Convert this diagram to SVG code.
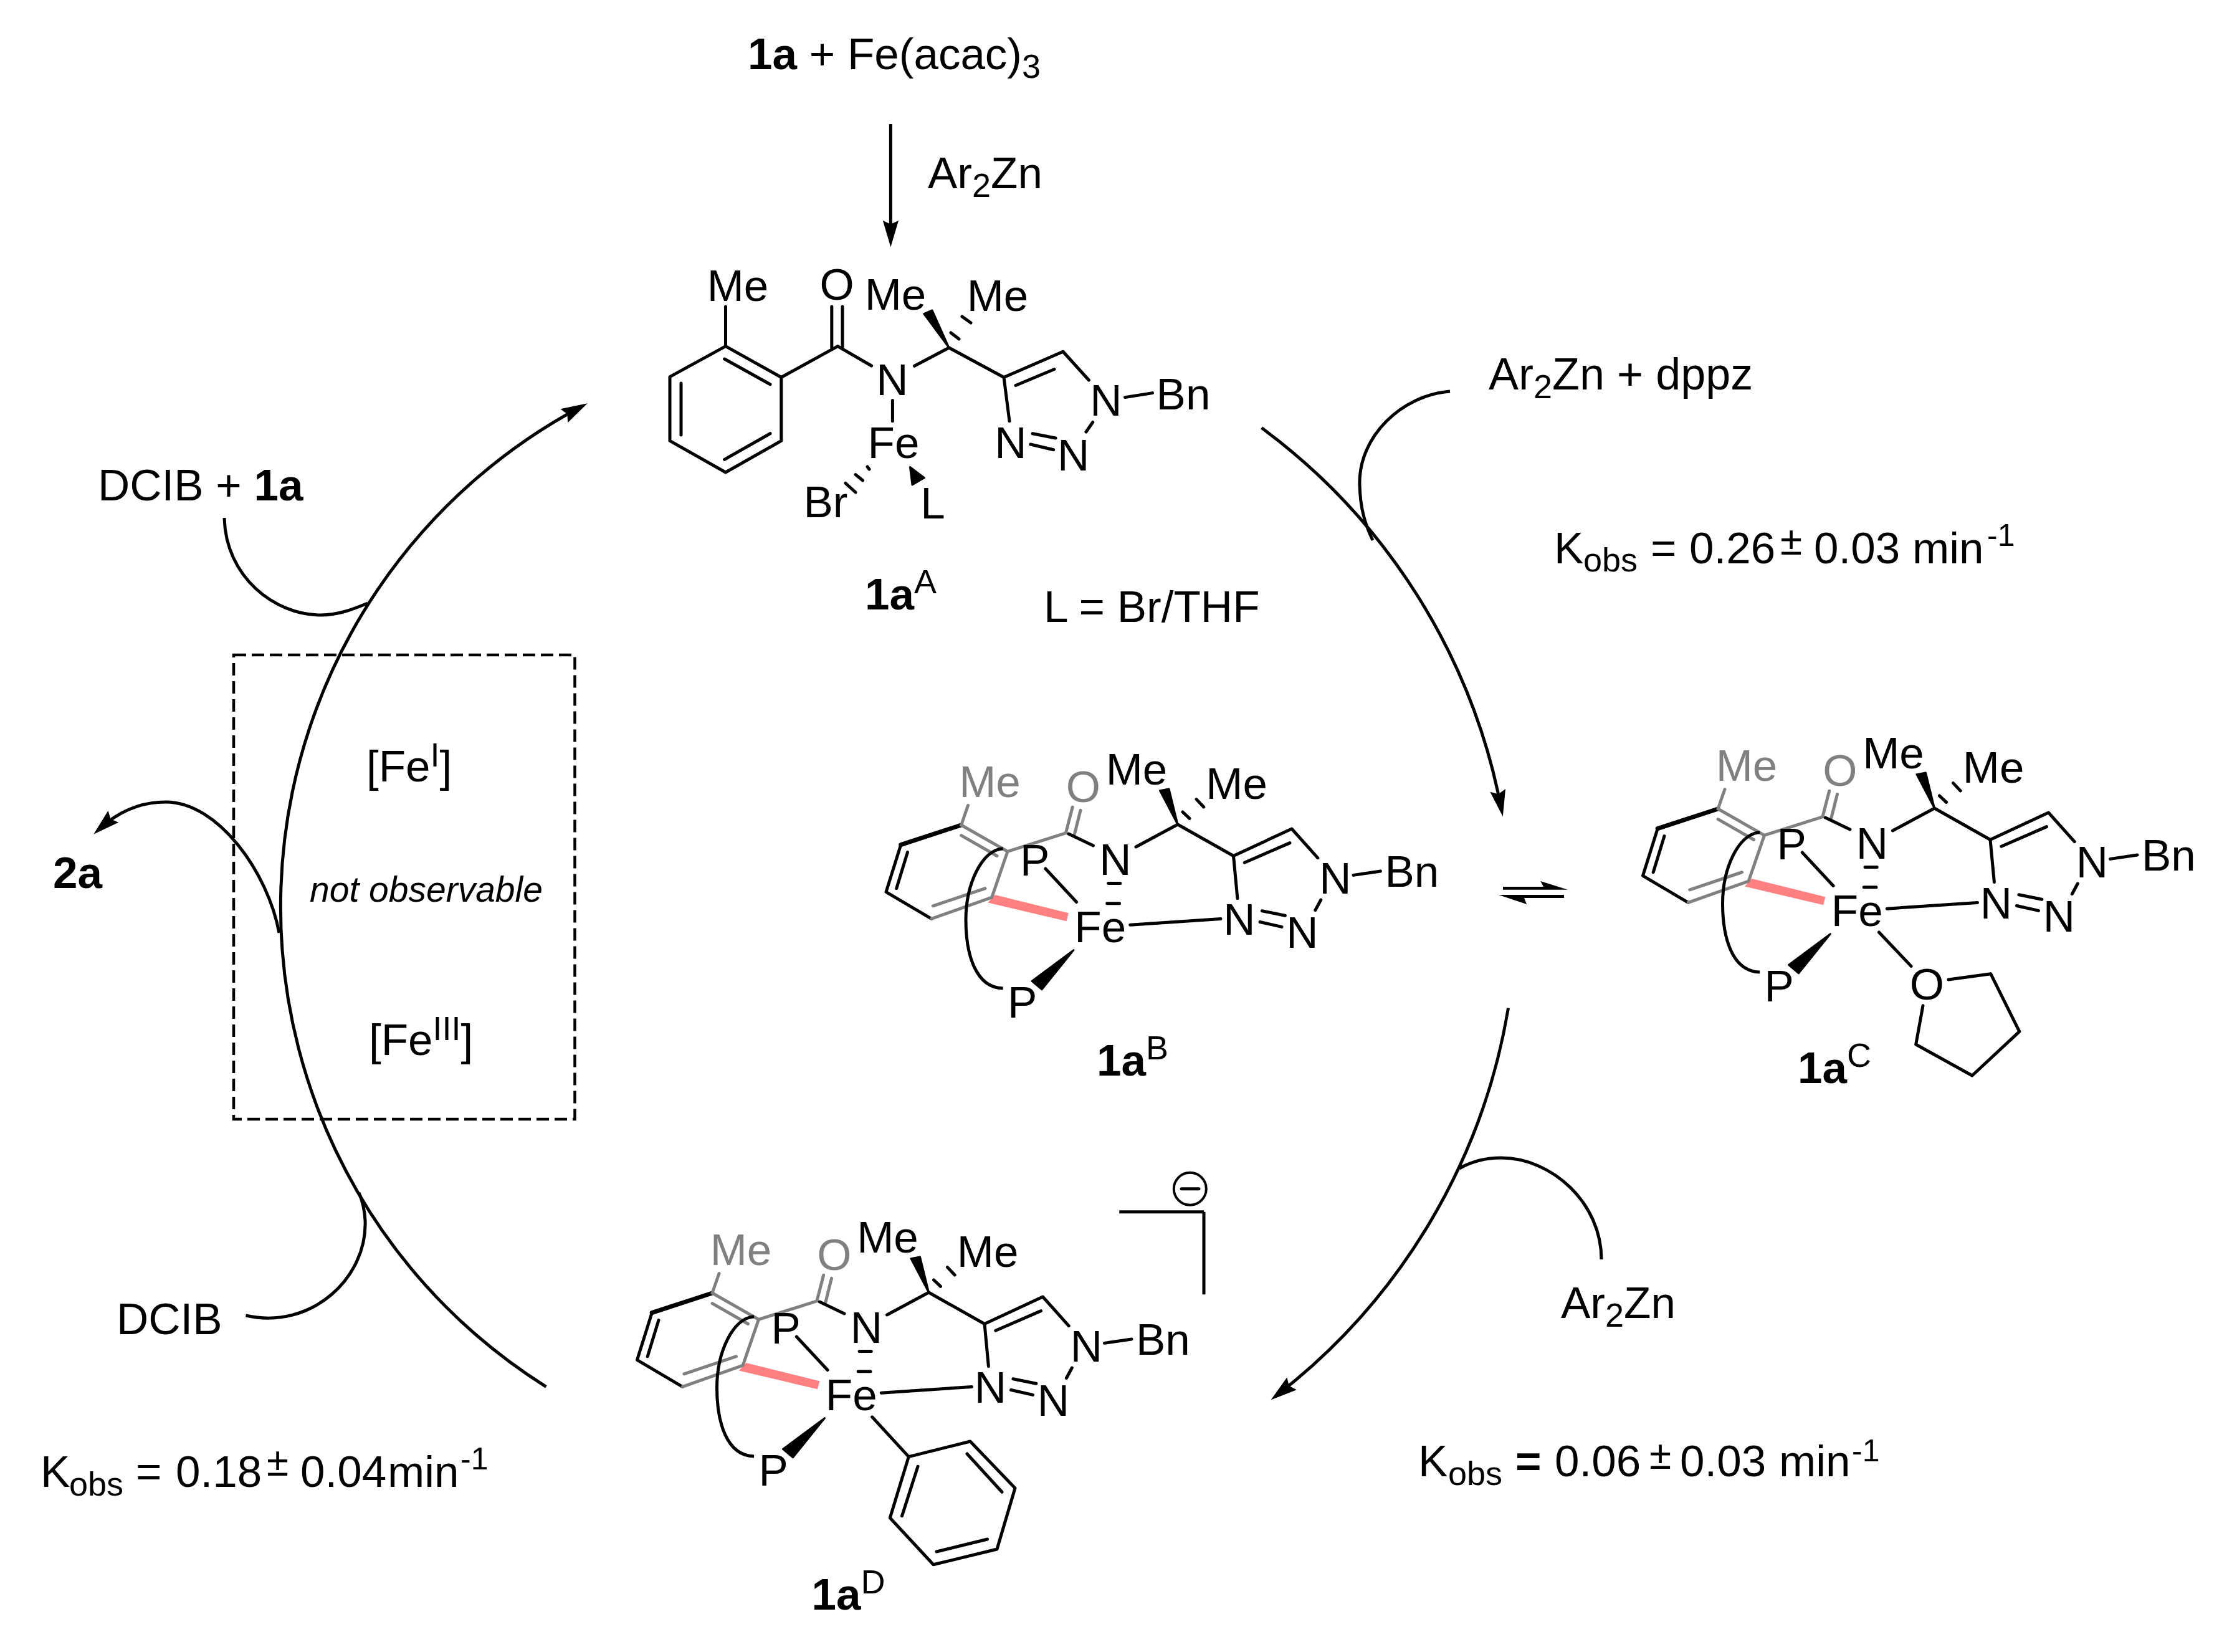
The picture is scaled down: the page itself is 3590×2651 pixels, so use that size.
<svg xmlns="http://www.w3.org/2000/svg" width="3590" height="2651" viewBox="0 0 3590 2651">
<style>
text{font-family:"Liberation Sans",Arial,sans-serif;font-size:71px;fill:#000}
.m{text-anchor:middle}
.b{font-weight:bold}
.sm{font-size:54px}
.su{font-size:54px}
.e{font-size:50px}
.pm{font-size:64px}
.g{fill:#808080}
.i{font-style:italic;font-size:57px}
.l{fill:none;stroke:#000;stroke-width:5;stroke-linecap:round;stroke-linejoin:round}
.h{stroke-width:7}
.gl{fill:none;stroke:#808080;stroke-width:5;stroke-linecap:round}
.c{fill:none;stroke:#000;stroke-width:5}
.w{fill:#000;stroke:none}
.wd{fill:#000;stroke:#000;stroke-width:3;stroke-linejoin:round}
.p{fill:#FF8080;stroke:none}
</style>
<defs>
<marker id="ah" markerUnits="userSpaceOnUse" markerWidth="60" markerHeight="30" viewBox="-45 -15 62 30" refX="-15" refY="0" orient="auto" overflow="visible">
<path d="M0,0 L-44,-13 L-38,0 L-44,13 Z" fill="#000"/>
</marker>
</defs>

<g id="connectors">
<path class="c" d="M1429.4,199 V382" marker-end="url(#ah)"/>
<path class="c" d="M2024.6,686.5 A990,990 0 0 1 2409,1296" marker-end="url(#ah)"/>
<path class="c" d="M2420.5,1617.6 A990,990 0 0 1 2051,2237.5" marker-end="url(#ah)"/>
<path class="c" d="M876.4,2225.3 A909,909 0 0 1 930,654" marker-end="url(#ah)"/>
<path class="c" d="M2327,628 C2250,634 2180,700 2182,778 C2183,815 2190,840 2203,867"/>
<path class="c" d="M2342,1875 Q2372,1858 2409,1858 C2490,1858 2570,1930 2570,2021"/>
<path class="c" d="M360,831 C362,925 440,987 515,987 C545,987 570,976 590,968"/>
<path class="c" d="M448,1497 C430,1400 350,1287 266,1287 C224,1287 190,1303 161,1329" marker-end="url(#ah)"/>
<path class="c" d="M394.5,2111 C500,2135 590,2050 586,1958 C585,1940 582,1928 576,1914"/>
<g id="equilibrium">
<path class="w" d="M2412,1423 H2477 L2472.3,1414 L2516,1427.7 H2412 Z"/>
<path class="w" d="M2510,1436 H2405 L2450,1451 L2446,1441 H2510 Z"/>
</g>
</g>

<g id="start"><text x="1200" y="110.7"><tspan class="b">1a</tspan> + Fe(acac)<tspan class="sm" dy="14">3</tspan></text></g>
<g id="reagent-top"><text x="1489" y="301.7">Ar<tspan class="sm" dy="14">2</tspan><tspan dy="-14">Zn</tspan></text></g>
<g id="reagent-dppz"><text x="2389" y="624.5" style="font-size:72px">Ar<tspan class="sm" dy="14">2</tspan><tspan dy="-14">Zn + dppz</tspan></text></g>
<g id="reagent-bottom"><text x="2505" y="2114.5">Ar<tspan class="sm" dy="14">2</tspan><tspan dy="-14">Zn</tspan></text></g>
<g id="dcib-1a"><text x="157" y="803.3">DCIB + <tspan class="b">1a</tspan></text></g>
<g id="dcib"><text x="187" y="2141">DCIB</text></g>
<g id="product"><text class="b" x="85" y="1425">2a</text></g>

<g id="kobs-1">
<text x="2494" y="903.5">K</text><text class="sm" x="2541" y="917">obs</text>
<text x="2649" y="903.5">=</text><text x="2711" y="903.5">0.26</text>
<text class="pm" x="2857" y="890">±</text>
<text x="2911" y="903.5">0.03</text><text x="3069" y="903.5">min</text>
<text class="e" x="3189" y="876">-1</text>
</g>
<g id="kobs-2">
<text x="2276" y="2369">K</text><text class="sm" x="2324" y="2383">obs</text>
<text class="b" x="2432" y="2369">=</text><text x="2495" y="2369">0.06</text>
<text class="pm" x="2647" y="2357">±</text>
<text x="2696" y="2369">0.03</text><text x="2855" y="2369">min</text>
<text class="e" x="2972" y="2345">-1</text>
</g>
<g id="kobs-3">
<text x="65" y="2386">K</text><text class="sm" x="111" y="2399.6">obs</text>
<text x="218" y="2386">=</text><text x="282" y="2386">0.18</text>
<text class="pm" x="428" y="2367.6">±</text>
<text x="482" y="2386">0.04</text><text x="622" y="2386">min</text>
<text class="e" x="739" y="2358">-1</text>
</g>

<g id="not-observable-box">
<rect x="375" y="1051" width="547.5" height="745" fill="none" stroke="#000" stroke-width="4.5" stroke-dasharray="20 9"/>
<text x="588" y="1254">[Fe<tspan class="sm" dy="-24">I</tspan><tspan dy="24">]</tspan></text>
<text class="i" x="497" y="1447">not observable</text>
<text x="592" y="1692.5">[Fe<tspan class="sm" dy="-24">III</tspan><tspan dy="24">]</tspan></text>
</g>

<g id="node-1aA">
<path class="l" d="M1164.5,555.6 L1253.8,605.5 V707.4 L1164.5,758 L1075,707.4 V604.6 Z"/>
<path class="l" d="M1162.6,576 L1236,616.8 M1093,615 V698 M1162.6,737.3 L1236,695.7"/>
<path class="l" d="M1164.5,555.6 V492 M1253.8,605.5 L1344.4,555.6 L1398.6,587 M1334.8,492 V558 M1352,492 V558"/>
<path class="l" d="M1467.5,587.3 L1523,558 L1611,605.5 L1706,564.3 L1747.4,610 M1630,618.5 L1692,592.5"/>
<path class="l" d="M1611,605.5 L1620,675.7 M1805.5,637.6 L1849.5,630.6 M1657,695.7 L1694,703 M1653.7,713 L1690.7,721.7 M1753.8,677.5 L1743,693 M1432.4,642.4 V675.7"/>
<path class="l" d="M1526,534 L1539,544 M1544,508 L1558,518 M1392,749 L1395,753 M1373,761.6 L1384.6,771 M1357,775.5 L1373,790"/>
<path class="wd" d="M1523,558 L1482.8,503.6 L1496,498 Z M1460.5,749.5 L1464,778 L1483.4,766.8 Z"/>
<text class="m" x="1184" y="483">Me</text>
<text class="m" x="1343" y="481">O</text>
<text class="m" x="1437" y="497">Me</text>
<text class="m" x="1601" y="499">Me</text>
<text class="m" x="1432" y="634">N</text>
<text class="m" x="1775" y="667">N</text>
<text class="m" x="1899" y="656.7">Bn</text>
<text class="m" x="1622" y="734.7">N</text>
<text class="m" x="1722.6" y="755">N</text>
<text class="m" x="1434" y="734.7">Fe</text>
<text class="m" x="1325" y="830">Br</text>
<text class="m" x="1497" y="832">L</text>
<text x="1388" y="977.6"><tspan class="b">1a</tspan><tspan class="su" dy="-26">A</tspan></text>
<text x="1675" y="998">L = Br/THF</text>
</g>

<g id="node-1aB">
<path class="p" d="M1596.8,1436 L1714.8,1465.3 L1711.6,1478.3 L1585.4,1448.6 Z"/>
<path class="l h" d="M1542.6,1324 L1445.7,1355.7"/>
<path class="l" d="M1445.7,1355.7 L1422,1431.3 L1494.8,1474.4 M1456.5,1367.6 L1438.7,1425.7"/>
<path class="gl" d="M1553.5,1292.5 L1542.6,1324 L1617,1366.4 L1591.7,1440 L1494.8,1474.4 M1542.6,1340.7 L1600,1373.5 M1581,1425.7 L1497.3,1453.8 M1617,1366.4 L1710.4,1336.8 L1721.2,1295.2 M1724.4,1338.7 L1734,1300.4"/>
<path class="l" d="M1714.8,1338 L1754.4,1357 M1823,1359 L1890,1323 L1979.5,1373.5 L2073,1330 L2114.7,1376.7 M1997.3,1384.2 L2070,1352.6"/>
<path class="l" d="M1979.5,1373.5 L1985.9,1441.5 M2172,1404.4 L2215.5,1398 M2025.4,1461.7 L2062.4,1469.2 M2022,1479.5 L2057,1487.4 M2119.8,1444 L2110.9,1460.5"/>
<path class="l" d="M1898,1303 L1909,1313.4 M1920,1282.6 L1931.7,1295 M1813.7,1484.2 L1959,1474.4 M1778.6,1417.4 H1797.7 M1776.7,1449.8 H1796.5 M1677.8,1394 L1727.6,1447.5"/>
<path class="wd" d="M1890,1323 L1861.5,1268.7 L1876,1266 Z M1723,1524.6 L1656,1574.4 L1672,1587.8 Z"/>
<path class="c" d="M1609.6,1361.7 C1575,1364 1550,1420 1550,1476 C1550,1530 1565,1585 1609.6,1586"/>
<text class="m g" x="1588.5" y="1278.6">Me</text>
<text class="m g" x="1738.4" y="1287">O</text>
<text class="m" x="1824" y="1258.9">Me</text>
<text class="m" x="1984.6" y="1281.8">Me</text>
<text class="m" x="1790" y="1404.4">N</text>
<text class="m" x="2142.8" y="1433.6">N</text>
<text class="m" x="2265.8" y="1423">Bn</text>
<text class="m" x="1989" y="1500">N</text>
<text class="m" x="2089.8" y="1521">N</text>
<text class="m" x="1765.8" y="1512">Fe</text>
<text class="m" x="1660.6" y="1405">P</text>
<text class="m" x="1640.8" y="1633.3">P</text>
<text x="1760" y="1726"><tspan class="b">1a</tspan><tspan class="su" dy="-26">B</tspan></text>
</g>

<g id="node-1aC" transform="translate(1214.5,-26)">
<path class="p" d="M1596.8,1436 L1714.8,1465.3 L1711.6,1478.3 L1585.4,1448.6 Z"/>
<path class="l h" d="M1542.6,1324 L1445.7,1355.7"/>
<path class="l" d="M1445.7,1355.7 L1422,1431.3 L1494.8,1474.4 M1456.5,1367.6 L1438.7,1425.7"/>
<path class="gl" d="M1553.5,1292.5 L1542.6,1324 L1617,1366.4 L1591.7,1440 L1494.8,1474.4 M1542.6,1340.7 L1600,1373.5 M1581,1425.7 L1497.3,1453.8 M1617,1366.4 L1710.4,1336.8 L1721.2,1295.2 M1724.4,1338.7 L1734,1300.4"/>
<path class="l" d="M1714.8,1338 L1754.4,1357 M1823,1359 L1890,1323 L1979.5,1373.5 L2073,1330 L2114.7,1376.7 M1997.3,1384.2 L2070,1352.6"/>
<path class="l" d="M1979.5,1373.5 L1985.9,1441.5 M2172,1404.4 L2215.5,1398 M2025.4,1461.7 L2062.4,1469.2 M2022,1479.5 L2057,1487.4 M2119.8,1444 L2110.9,1460.5"/>
<path class="l" d="M1898,1303 L1909,1313.4 M1920,1282.6 L1931.7,1295 M1813.7,1484.2 L1959,1474.4 M1778.6,1417.4 H1797.7 M1776.7,1449.8 H1796.5 M1677.8,1394 L1727.6,1447.5"/>
<path class="wd" d="M1890,1323 L1861.5,1268.7 L1876,1266 Z M1723,1524.6 L1656,1574.4 L1672,1587.8 Z"/>
<path class="c" d="M1609.6,1361.7 C1575,1364 1550,1420 1550,1476 C1550,1530 1565,1585 1609.6,1586"/>
<path class="l" d="M1800.9,1522 L1852.5,1576.4 M1912.5,1598 L1980.2,1588.7 L2026.3,1681.3 L1950.5,1752 L1860.2,1702 L1871.5,1639.7"/>
<text class="m g" x="1588.5" y="1278.6">Me</text>
<text class="m g" x="1738.4" y="1287">O</text>
<text class="m" x="1824" y="1258.9">Me</text>
<text class="m" x="1984.6" y="1281.8">Me</text>
<text class="m" x="1790" y="1404.4">N</text>
<text class="m" x="2142.8" y="1433.6">N</text>
<text class="m" x="2265.8" y="1423">Bn</text>
<text class="m" x="1989" y="1500">N</text>
<text class="m" x="2089.8" y="1521">N</text>
<text class="m" x="1765.8" y="1512">Fe</text>
<text class="m" x="1660.6" y="1405">P</text>
<text class="m" x="1640.8" y="1633.3">P</text>
<text class="m" x="1877.9" y="1629.5">O</text>
<text x="1670.5" y="1764"><tspan class="b">1a</tspan><tspan class="su" dy="-26">C</tspan></text>
</g>

<g id="node-1aD" transform="translate(-399.5,751)">
<path class="p" d="M1596.8,1436 L1714.8,1465.3 L1711.6,1478.3 L1585.4,1448.6 Z"/>
<path class="l h" d="M1542.6,1324 L1445.7,1355.7"/>
<path class="l" d="M1445.7,1355.7 L1422,1431.3 L1494.8,1474.4 M1456.5,1367.6 L1438.7,1425.7"/>
<path class="gl" d="M1553.5,1292.5 L1542.6,1324 L1617,1366.4 L1591.7,1440 L1494.8,1474.4 M1542.6,1340.7 L1600,1373.5 M1581,1425.7 L1497.3,1453.8 M1617,1366.4 L1710.4,1336.8 L1721.2,1295.2 M1724.4,1338.7 L1734,1300.4"/>
<path class="l" d="M1714.8,1338 L1754.4,1357 M1823,1359 L1890,1323 L1979.5,1373.5 L2073,1330 L2114.7,1376.7 M1997.3,1384.2 L2070,1352.6"/>
<path class="l" d="M1979.5,1373.5 L1985.9,1441.5 M2172,1404.4 L2215.5,1398 M2025.4,1461.7 L2062.4,1469.2 M2022,1479.5 L2057,1487.4 M2119.8,1444 L2110.9,1460.5"/>
<path class="l" d="M1898,1303 L1909,1313.4 M1920,1282.6 L1931.7,1295 M1813.7,1484.2 L1959,1474.4 M1778.6,1417.4 H1797.7 M1776.7,1449.8 H1796.5 M1677.8,1394 L1727.6,1447.5"/>
<path class="wd" d="M1890,1323 L1861.5,1268.7 L1876,1266 Z M1723,1524.6 L1656,1574.4 L1672,1587.8 Z"/>
<path class="c" d="M1609.6,1361.7 C1575,1364 1550,1420 1550,1476 C1550,1530 1565,1585 1609.6,1586"/>
<path class="l" d="M1799.1,1522.8 L1857.8,1586.6 M1857.8,1586.6 L1956.5,1562 L2028.5,1637 L1999.5,1735 L1897.4,1759.8 L1827.8,1684.8 Z M1951.5,1582 L2007.5,1643.3 M1984.1,1719 L1902.5,1739 M1847,1681.7 L1872.5,1602.2"/>
<text class="m g" x="1588.5" y="1278.6">Me</text>
<text class="m g" x="1738.4" y="1287">O</text>
<text class="m" x="1824" y="1258.9">Me</text>
<text class="m" x="1984.6" y="1281.8">Me</text>
<text class="m" x="1790" y="1404.4">N</text>
<text class="m" x="2142.8" y="1433.6">N</text>
<text class="m" x="2265.8" y="1423">Bn</text>
<text class="m" x="1989" y="1500">N</text>
<text class="m" x="2089.8" y="1521">N</text>
<text class="m" x="1765.8" y="1512">Fe</text>
<text class="m" x="1660.6" y="1405">P</text>
<text class="m" x="1640.8" y="1633.3">P</text>
<text x="1702" y="1832"><tspan class="b">1a</tspan><tspan class="su" dy="-26">D</tspan></text>
</g>

<g id="charge-bracket">
<path class="l" d="M1796.3,1944.7 H1932 M1932,1944.7 V2077.3" style="stroke-linecap:butt"/>
<circle cx="1909.8" cy="1907.7" r="26" fill="none" stroke="#000" stroke-width="4"/>
<path class="l" d="M1896,1907.7 H1924"/>
</g>
</svg>
